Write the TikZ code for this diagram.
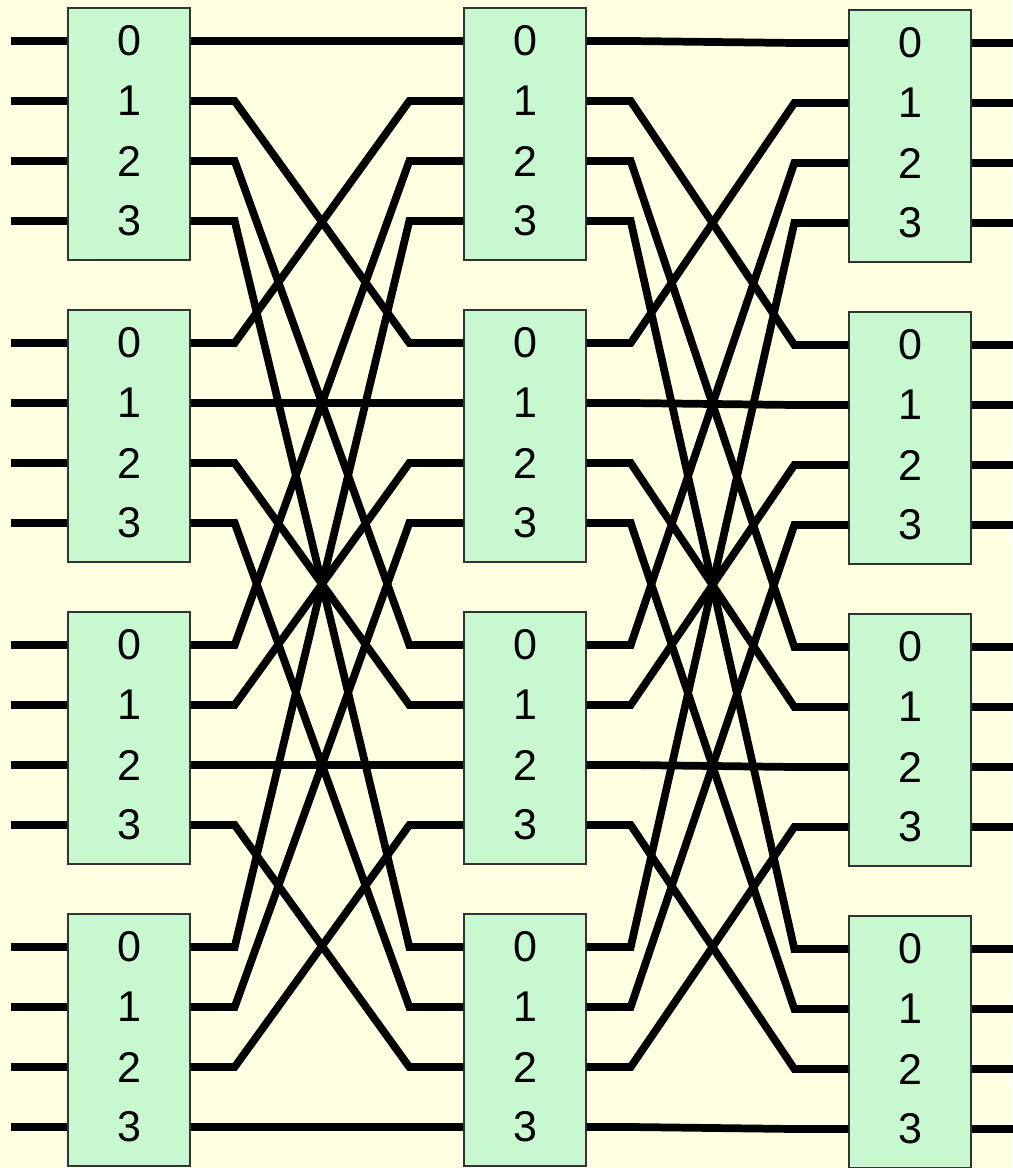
\documentclass[tikz,border=0pt]{standalone}
\usepackage{fontspec}
\setmainfont{Liberation Sans}
\definecolor{paper}{RGB}{255,255,225}
\definecolor{swfill}{RGB}{200,248,208}

\begin{document}
\begin{tikzpicture}[x=0.02cm, y=-0.02cm,
  switch/.style={draw=black!80, line width=0.8pt, fill=swfill,
    minimum width=2.44cm, minimum height=5.04cm, inner sep=0pt},
  port/.style={font=\fontsize{24.5}{28}\selectfont, inner sep=0pt},
  wire/.style={line width=5pt},
  link/.style={line width=4.4pt}]
  \fill[paper] (0,0) rectangle (1012,1168);
  \useasboundingbox (0,0) rectangle (1012,1168);

  % three columns of 4x4 switches
  \foreach \c/\x/\dy in {1/129/0, 2/525/0, 3/910/2} {
    \foreach \b in {0,...,3} {
      \node[switch] (s\c\b) at (\x, {134+302*\b+\dy}) {};
      \foreach \p in {0,...,3} {
        \node[port] (n\c\b\p) at (\x, {41+302*\b+\dy+60*\p}) {\p};
        \coordinate (i\c\b\p) at (s\c\b.west |- n\c\b\p);
        \coordinate (o\c\b\p) at (s\c\b.east |- n\c\b\p);
      }
    }
  }

  % inputs and outputs
  \foreach \b in {0,...,3}
    \foreach \p in {0,...,3} {
      \draw[wire] (i1\b\p) -- ++(-56,0);
      \draw[wire] (o3\b\p) -- ++(60,0);
    }

  % port p of switch b goes to port b of switch p
  \foreach \c/\d in {1/2, 2/3}
    \foreach \b in {0,...,3}
      \foreach \p in {0,...,3}
        \draw[link] (o\c\b\p) -- ++(44,0) -- ([xshift=-1.08cm]i\d\p\b) -- (i\d\p\b);
\end{tikzpicture}
\end{document}
